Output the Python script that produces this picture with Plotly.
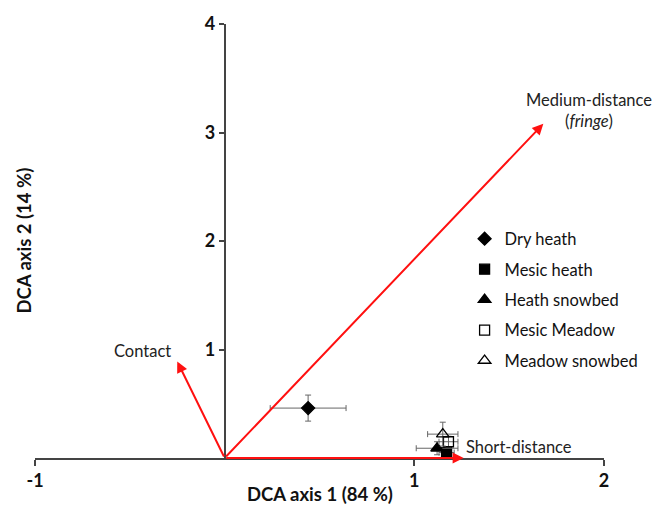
import plotly.graph_objects as go

# Habitat group scores on the first two DCA axes (mean ± error)
groups = ["Dry heath", "Mesic heath", "Heath snowbed", "Mesic Meadow", "Meadow snowbed"]
axis1 = [0.44, 1.17, 1.12, 1.18, 1.15]
axis2 = [0.46, 0.05, 0.09, 0.15, 0.22]
err1 = [0.20, 0.04, 0.11, 0.05, 0.08]
err2 = [0.12, 0.04, 0.06, 0.05, 0.11]
symbols = ["diamond", "square", "triangle-up", "square-open", "triangle-up-open"]

# Fitted dispersal-mode vectors
vec_names = ["Contact", "Medium-distance<br>(<i>fringe</i>)", "Short-distance"]
vec_x = [-0.25, 1.68, 1.26]
vec_y = [0.89, 3.08, 0.0]

x_ticks = [-1, 1, 2]
y_ticks = [1, 2, 3, 4]

FONT = "Lato, 'Open Sans', sans-serif"
fig = go.Figure()

for name, x, y, ex, ey, sym in zip(groups, axis1, axis2, err1, err2, symbols):
    fig.add_trace(go.Scatter(
        x=[x], y=[y], mode="markers", name=name, legendgroup=name,
        marker=dict(symbol=sym, size=11 if "triangle" in sym else 10, color="black",
                    line=dict(color="black", width=1.3)),
        error_x=dict(type="constant", value=ex, color="#666", thickness=1, width=3),
        error_y=dict(type="constant", value=ey, color="#666", thickness=1, width=3),
    ))

# Vector arrows from the origin
for vx, vy in zip(vec_x, vec_y):
    fig.add_annotation(x=vx, y=vy, ax=0, ay=0, xref="x", yref="y", axref="x", ayref="y",
                       text="", showarrow=True, arrowhead=2, arrowsize=1.1,
                       arrowwidth=2, arrowcolor="#ff1010", standoff=0, startstandoff=0)

# Vector labels
label_pos = [
    dict(x=vec_x[0] - 0.02, y=vec_y[0] + 0.1, xanchor="right", yanchor="middle", align="right"),
    dict(x=vec_x[1] + 0.24, y=vec_y[1] + 0.12, xanchor="center", yanchor="middle", align="center"),
    dict(x=vec_x[2] + 0.0, y=vec_y[2] + 0.1, xanchor="left", yanchor="middle", align="left"),
]
for name, pos in zip(vec_names, label_pos):
    fig.add_annotation(text=name, showarrow=False, xref="x", yref="y",
                       font=dict(family=FONT, size=16.5, color="#222"), **pos)

# Axis titles
fig.add_annotation(text="<b>DCA axis 1 (84 %)</b>", x=0.5, y=-0.083, xref="x", yref="paper",
                   showarrow=False, xanchor="center", yanchor="middle",
                   font=dict(family=FONT, size=18.5, color="#111"))
fig.add_annotation(text="<b>DCA axis 2 (14 %)</b>", x=-0.02, y=0.5, xref="paper", yref="paper",
                   showarrow=False, textangle=-90, xanchor="center", yanchor="middle",
                   font=dict(family=FONT, size=18.5, color="#111"))

fig.update_layout(
    width=664, height=515,
    margin=dict(l=35, r=60, t=18, b=57),
    paper_bgcolor="white", plot_bgcolor="white",
    font=dict(family=FONT, color="#222"),
    showlegend=True,
    legend=dict(x=0.755, y=0.545, xanchor="left", yanchor="top",
                font=dict(family=FONT, size=16.5, color="#111"),
                bgcolor="rgba(0,0,0,0)", tracegroupgap=6, itemwidth=30),
    xaxis=dict(range=[-1, 2], tickvals=x_ticks, ticktext=[str(v) for v in x_ticks],
               showgrid=False, zeroline=False, showline=True, linecolor="#444", linewidth=1.5,
               ticks="outside", ticklen=6, tickcolor="#444", tickwidth=1.5,
               tickfont=dict(family=FONT, size=18, color="#111", weight="bold"),
               anchor="y"),
    yaxis=dict(range=[0, 4], tickvals=y_ticks, ticktext=[str(v) for v in y_ticks],
               showgrid=False, zeroline=False, showline=True, linecolor="#444", linewidth=1.5,
               ticks="outside", ticklen=5, tickcolor="#444", tickwidth=1.5,
               tickfont=dict(family=FONT, size=18, color="#111", weight="bold"),
               anchor="free", position=1 / 3),
)

fig.write_html("out.html")
